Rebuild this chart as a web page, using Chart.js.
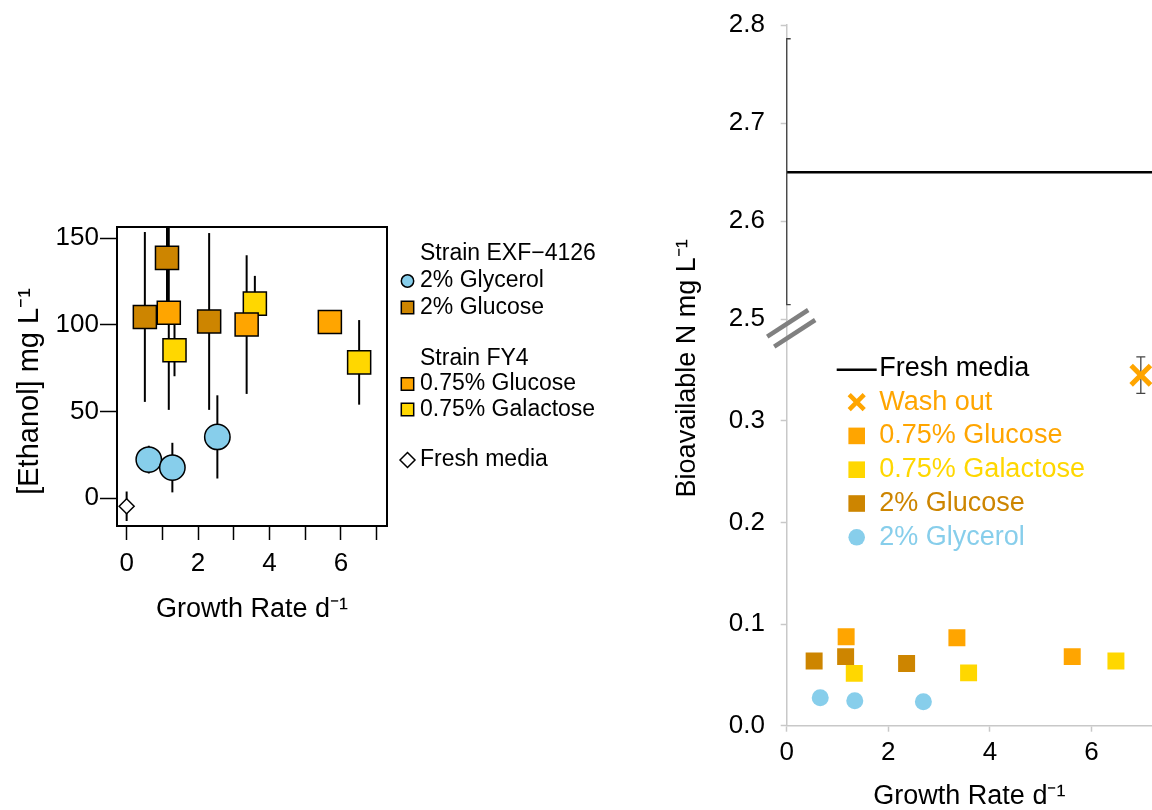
<!DOCTYPE html>
<html>
<head>
<meta charset="utf-8">
<script src="https://cdn.jsdelivr.net/npm/chart.js@4.4.0/dist/chart.umd.min.js"></script>
<style>
  html, body { margin: 0; padding: 0; background: #fff; overflow: hidden; }
  #ethanolChart { position: absolute; left: 0; top: 0; }
  #nitrogenChart { position: absolute; left: 650px; top: 0; }
</style>
</head>
<body>
<canvas id="ethanolChart" width="640" height="810"></canvas>
<canvas id="nitrogenChart" width="502" height="810"></canvas>
<script>
// ---------------------------------------------------------
// Ethanol panel: growth rate (d-1) vs ethanol (mg/L) +/- sd
// ---------------------------------------------------------
const glycerolRate = [0.62, 1.28, 2.54];
const glycerolEtoh = [22.3, 17.7, 35.4];
const glycerolEtohErr = [8, 14.3, 24];

const glucose2Rate = [0.51, 1.13, 2.31];
const glucose2Etoh = [104.6, 138.7, 102];
const glucose2EtohErr = [49, 25, 51];

const glucose075Rate = [1.18, 3.36, 5.69];
const glucose075Etoh = [107, 100.2, 101.7];
const glucose075EtohErr = [56, 40, 5];

const galactoseRate = [1.34, 3.59, 6.51];
const galactoseEtoh = [85.4, 112.3, 78.4];
const galactoseEtohErr = [15, 16, 24.4];

const freshRate = [0];
const freshEtoh = [-4.6];
const freshEtohErr = [8.5];

const ethanolXTicks = [0, 1, 2, 3, 4, 5, 6, 7];
const ethanolYTicks = [0, 50, 100, 150];

// ---------------------------------------------------------
// Nitrogen panel: growth rate (d-1) vs bioavailable N (mg/L)
// ---------------------------------------------------------
const glycerolRateN = [0.66, 1.34, 2.69];
const glycerolN = [0.0275, 0.0246, 0.0236];

const glucose2RateN = [0.54, 1.16, 2.36];
const glucose2N = [0.0636, 0.068, 0.0613];

const glucose075RateN = [1.17, 3.35, 5.62];
const glucose075N = [0.0875, 0.0866, 0.068];

const galactoseRateN = [1.33, 3.58, 6.48];
const galactoseN = [0.0515, 0.052, 0.0636];

const washoutRate = [6.97];
const washoutN = [0.345];
const washoutNErr = [0.018];

const freshMediaN = 2.65;

const nitrogenXTicks = [0, 2, 4, 6];
const nitrogenLowTicks = [0, 0.1, 0.2, 0.3];
const nitrogenHighTicks = [2.5, 2.6, 2.7, 2.8];
const highAxisSpan = [2.515, 2.786];

// colours
const SKY = '#87CEEB';
const ORANGE = '#FFA500';
const GOLD = '#FFD700';
const DARK_ORANGE = '#CD8500';

const FONT = '"Liberation Sans", Arial, Helvetica, sans-serif';
Chart.defaults.font.family = FONT;
Chart.defaults.color = '#000';

const pts = (xs, ys) => xs.map((x, i) => ({ x: x, y: ys[i] }));
const fixedTicks = vals => scale => { scale.ticks = vals.map(v => ({ value: v })); };

// vertical error bars, drawn under the markers and clipped to the plot area
const errorBarPlugin = {
    id: 'errorBars',
    beforeDatasetsDraw(chart) {
        const { ctx, chartArea } = chart;
        ctx.save();
        ctx.beginPath();
        ctx.rect(chartArea.left, chartArea.top, chartArea.right - chartArea.left, chartArea.bottom - chartArea.top);
        ctx.clip();
        chart.data.datasets.forEach((ds, di) => {
            if (!ds.errors) return;
            const meta = chart.getDatasetMeta(di);
            const xs = chart.scales[meta.xAxisID];
            const ys = chart.scales[meta.yAxisID];
            ctx.strokeStyle = ds.errorColor || '#000';
            ctx.lineWidth = ds.errorWidth || 2;
            ds.data.forEach((p, i) => {
                const e = ds.errors[i];
                const px = xs.getPixelForValue(p.x);
                const top = ys.getPixelForValue(p.y + e);
                const bot = ys.getPixelForValue(p.y - e);
                ctx.beginPath();
                ctx.moveTo(px, top);
                ctx.lineTo(px, bot);
                if (ds.errorCap) {
                    ctx.moveTo(px - ds.errorCap, top);
                    ctx.lineTo(px + ds.errorCap, top);
                    ctx.moveTo(px - ds.errorCap, bot);
                    ctx.lineTo(px + ds.errorCap, bot);
                }
                ctx.stroke();
            });
        });
        ctx.restore();
    }
};

// rotated y title placed by its own centre
const yTitle = (id, text, size, x, dy) => ({
    id: id,
    afterDraw(chart) {
        const { ctx, chartArea } = chart;
        ctx.save();
        ctx.translate(x, (chartArea.top + chartArea.bottom) / 2 + dy);
        ctx.rotate(-Math.PI / 2);
        ctx.font = size + 'px ' + FONT;
        ctx.textAlign = 'center';
        ctx.textBaseline = 'middle';
        ctx.fillStyle = '#000';
        ctx.fillText(text, 0, 0);
        ctx.restore();
    }
});

// box around the ethanol plot
const boxPlugin = {
    id: 'box',
    beforeDatasetsDraw(chart) {
        const { ctx, chartArea } = chart;
        ctx.save();
        ctx.strokeStyle = '#000';
        ctx.lineWidth = 2;
        ctx.strokeRect(chartArea.left, chartArea.top, chartArea.right - chartArea.left, chartArea.bottom - chartArea.top);
        ctx.restore();
    }
};

// legend beside the ethanol plot
const ethanolLegendPlugin = {
    id: 'ethanolLegend',
    afterDraw(chart) {
        const ctx = chart.ctx;
        const mx = 407.5, tx = 420;
        const rows = [
            { y: 254, text: 'Strain EXF\u22124126' },
            { y: 281, text: '2% Glycerol', marker: 'circle', color: SKY },
            { y: 307.5, text: '2% Glucose', marker: 'square', color: DARK_ORANGE },
            { y: 358.5, text: 'Strain FY4' },
            { y: 384, text: '0.75% Glucose', marker: 'square', color: ORANGE },
            { y: 409.5, text: '0.75% Galactose', marker: 'square', color: GOLD },
            { y: 460, text: 'Fresh media', marker: 'diamond', color: '#fff' }
        ];
        ctx.save();
        ctx.font = '23px ' + FONT;
        ctx.textBaseline = 'middle';
        ctx.lineWidth = 1.5;
        ctx.strokeStyle = '#000';
        rows.forEach(r => {
            ctx.fillStyle = '#000';
            ctx.fillText(r.text, tx, r.y);
            if (!r.marker) return;
            ctx.fillStyle = r.color;
            ctx.beginPath();
            if (r.marker === 'circle') {
                ctx.arc(mx, r.y, 6.2, 0, Math.PI * 2);
            } else if (r.marker === 'square') {
                ctx.rect(mx - 6.2, r.y - 6.2, 12.4, 12.4);
            } else {
                ctx.moveTo(mx - 7.5, r.y);
                ctx.lineTo(mx, r.y - 7.5);
                ctx.lineTo(mx + 7.5, r.y);
                ctx.lineTo(mx, r.y + 7.5);
                ctx.closePath();
            }
            ctx.fill();
            ctx.stroke();
        });
        ctx.restore();
    }
};

new Chart(document.getElementById('ethanolChart'), {
    type: 'scatter',
    data: {
        datasets: [
            {
                label: '0.75% Glucose',
                data: pts(glucose075Rate, glucose075Etoh),
                errors: glucose075EtohErr,
                pointStyle: 'rect', pointRadius: 16.3,
                backgroundColor: ORANGE, borderColor: '#000', borderWidth: 1.5
            },
            {
                label: '2% Glucose',
                data: pts(glucose2Rate, glucose2Etoh),
                errors: glucose2EtohErr,
                pointStyle: 'rect', pointRadius: 16.3,
                backgroundColor: DARK_ORANGE, borderColor: '#000', borderWidth: 1.5
            },
            {
                label: '0.75% Galactose',
                data: pts(galactoseRate, galactoseEtoh),
                errors: galactoseEtohErr,
                pointStyle: 'rect', pointRadius: 16.3,
                backgroundColor: GOLD, borderColor: '#000', borderWidth: 1.5
            },
            {
                label: '2% Glycerol',
                data: pts(glycerolRate, glycerolEtoh),
                errors: glycerolEtohErr,
                pointStyle: 'circle', pointRadius: 12.7,
                backgroundColor: SKY, borderColor: '#000', borderWidth: 1.5
            },
            {
                label: 'Fresh media',
                data: pts(freshRate, freshEtoh),
                errors: freshEtohErr,
                pointStyle: 'rectRot', pointRadius: 7.5,
                backgroundColor: '#fff', borderColor: '#000', borderWidth: 1.5
            }
        ]
    },
    options: {
        responsive: false,
        animation: false,
        layout: { autoPadding: false, padding: { left: 0, top: 227, right: 253, bottom: 184 } },
        plugins: { legend: { display: false }, tooltip: { enabled: false } },
        scales: {
            x: {
                type: 'linear', min: -0.27, max: 7.29,
                afterBuildTicks: fixedTicks(ethanolXTicks),
                afterFit: s => { s.height = 100; },
                grid: { drawOnChartArea: false, tickLength: 14, tickColor: '#000', tickWidth: 1.5 },
                border: { display: false },
                ticks: {
                    callback: v => (v % 2 === 0 ? v : ''),
                    font: { size: 26 }, padding: 8, maxRotation: 0, autoSkip: false
                },
                title: { display: true, text: 'Growth Rate d\u207B\u00B9', font: { size: 27 }, padding: { top: 0, bottom: 0 } }
            },
            y: {
                type: 'linear', min: -16, max: 156.5,
                afterBuildTicks: fixedTicks(ethanolYTicks),
                afterFit: s => { s.width = 117; },
                grid: { drawOnChartArea: false, tickLength: 17, tickColor: '#000', tickWidth: 1.5 },
                border: { display: false },
                ticks: { font: { size: 26 }, padding: 1 }
            }
        }
    },
    plugins: [boxPlugin, errorBarPlugin, ethanolLegendPlugin,
        yTitle('ethanolTitle', '[Ethanol] mg L\u207B\u00B9', 29, 30, 15)]
});

// ---------------------------------------------------------
// Nitrogen panel with a broken y axis (two stacked scales)
// ---------------------------------------------------------
const AXIS_GREY = '#c8c8c8';

const axisBreakPlugin = {
    id: 'axisBreak',
    afterDraw(chart) {
        const { ctx, chartArea, scales } = chart;
        const x0 = chartArea.left;
        const y0 = scales.yLow.top;
        ctx.save();
        // dark bracket on the upper axis
        const a = scales.yHigh.getPixelForValue(highAxisSpan[1]);
        const b = scales.yHigh.getPixelForValue(highAxisSpan[0]);
        ctx.strokeStyle = '#444';
        ctx.lineWidth = 1.3;
        ctx.beginPath();
        ctx.moveTo(x0 + 4, a); ctx.lineTo(x0, a); ctx.lineTo(x0, b); ctx.lineTo(x0 + 4, b);
        ctx.stroke();
        // break marks
        ctx.strokeStyle = '#808080';
        ctx.lineWidth = 4.5;
        [[1, 4], [8, 14]].forEach(([dx, dy]) => {
            ctx.beginPath();
            ctx.moveTo(x0 + dx - 20.5, y0 + dy + 13.3);
            ctx.lineTo(x0 + dx + 20.5, y0 + dy - 13.3);
            ctx.stroke();
        });
        ctx.restore();
    }
};

const nitrogenLegendPlugin = {
    id: 'nitrogenLegend',
    afterDraw(chart) {
        const ctx = chart.ctx;
        const mx = 206.7, tx = 229.3, y0 = 368.3, step = 33.8;
        const rows = [
            { text: 'Fresh media', marker: 'line', color: '#000' },
            { text: 'Wash out', marker: 'cross', color: ORANGE },
            { text: '0.75% Glucose', marker: 'square', color: ORANGE },
            { text: '0.75% Galactose', marker: 'square', color: GOLD },
            { text: '2% Glucose', marker: 'square', color: DARK_ORANGE },
            { text: '2% Glycerol', marker: 'circle', color: SKY }
        ];
        ctx.save();
        ctx.font = '27px ' + FONT;
        ctx.textBaseline = 'middle';
        rows.forEach((r, i) => {
            const y = y0 + i * step;
            ctx.fillStyle = r.color;
            ctx.strokeStyle = r.color;
            ctx.fillText(r.text, tx, y);
            ctx.beginPath();
            if (r.marker === 'line') {
                ctx.lineWidth = 2.5;
                ctx.moveTo(mx - 20, y + 1.5);
                ctx.lineTo(mx + 20, y + 1.5);
                ctx.stroke();
            } else if (r.marker === 'cross') {
                ctx.lineWidth = 4.5;
                ctx.moveTo(mx - 7.5, y - 7.5); ctx.lineTo(mx + 7.5, y + 7.5);
                ctx.moveTo(mx + 7.5, y - 7.5); ctx.lineTo(mx - 7.5, y + 7.5);
                ctx.stroke();
            } else if (r.marker === 'square') {
                ctx.fillRect(mx - 8.3, y - 8.3, 16.6, 16.6);
            } else {
                ctx.arc(mx, y, 8.3, 0, Math.PI * 2);
                ctx.fill();
            }
        });
        ctx.restore();
    }
};

const nXMin = 0, nXMax = 7.19;

const lightGrid = { drawOnChartArea: false, tickLength: 6, tickColor: AXIS_GREY, tickWidth: 1.5 };
const lightBorder = { display: true, color: AXIS_GREY, width: 1.5 };
// fixed axis width; labels at the ends may overhang the plot area
const fitLeftAxis = s => { s.width = 136.7; s.paddingTop = 0; s.paddingBottom = 0; };

new Chart(document.getElementById('nitrogenChart'), {
    type: 'scatter',
    data: {
        datasets: [
            {
                label: 'Fresh media',
                data: [{ x: nXMin, y: freshMediaN }, { x: nXMax, y: freshMediaN }],
                yAxisID: 'yHigh',
                showLine: true, pointRadius: 0,
                borderColor: '#000', borderWidth: 2.5
            },
            {
                label: 'Wash out',
                data: pts(washoutRate, washoutN),
                errors: washoutNErr, errorColor: '#444', errorWidth: 1.3, errorCap: 4.5,
                yAxisID: 'yLow',
                pointStyle: 'crossRot', pointRadius: 13.7,
                borderColor: ORANGE, borderWidth: 5
            },
            {
                label: '0.75% Galactose',
                data: pts(galactoseRateN, galactoseN),
                yAxisID: 'yLow',
                pointStyle: 'rect', pointRadius: 12,
                backgroundColor: GOLD, borderWidth: 0
            },
            {
                label: '0.75% Glucose',
                data: pts(glucose075RateN, glucose075N),
                yAxisID: 'yLow',
                pointStyle: 'rect', pointRadius: 12,
                backgroundColor: ORANGE, borderWidth: 0
            },
            {
                label: '2% Glucose',
                data: pts(glucose2RateN, glucose2N),
                yAxisID: 'yLow',
                pointStyle: 'rect', pointRadius: 12,
                backgroundColor: DARK_ORANGE, borderWidth: 0
            },
            {
                label: '2% Glycerol',
                data: pts(glycerolRateN, glycerolN),
                yAxisID: 'yLow',
                pointStyle: 'circle', pointRadius: 8.5,
                backgroundColor: SKY, borderWidth: 0
            }
        ]
    },
    options: {
        responsive: false,
        animation: false,
        layout: { autoPadding: false, padding: { left: 0, top: 25, right: 0, bottom: 0 } },
        plugins: { legend: { display: false }, tooltip: { enabled: false } },
        scales: {
            x: {
                type: 'linear', min: nXMin, max: nXMax,
                afterBuildTicks: fixedTicks(nitrogenXTicks),
                afterFit: s => { s.height = 84.3; },
                grid: lightGrid,
                border: lightBorder,
                ticks: { font: { size: 26 }, padding: 5.7, maxRotation: 0, autoSkip: false },
                title: { display: true, text: 'Growth Rate d\u207B\u00B9', font: { size: 27 }, padding: { top: 0, bottom: -3 } }
            },
            yLow: {
                type: 'linear', position: 'left', stack: 'n', stackWeight: 406.4,
                min: 0, max: 0.4,
                afterBuildTicks: fixedTicks(nitrogenLowTicks),
                afterFit: fitLeftAxis,
                grid: lightGrid,
                border: lightBorder,
                ticks: { font: { size: 26 }, padding: 15.7, callback: v => v.toFixed(1) }
            },
            yHigh: {
                type: 'linear', position: 'left', stack: 'n', stackWeight: 294.3,
                min: 2.5, max: 2.8,
                afterBuildTicks: fixedTicks(nitrogenHighTicks),
                afterFit: fitLeftAxis,
                grid: lightGrid,
                border: lightBorder,
                ticks: { font: { size: 26 }, padding: 15.7, callback: v => v.toFixed(1) }
            }
        }
    },
    plugins: [errorBarPlugin, axisBreakPlugin, nitrogenLegendPlugin,
        yTitle('nitrogenTitle', 'Bioavailable N mg L\u207B\u00B9', 27, 38, -7)]
});
</script>
</body>
</html>
